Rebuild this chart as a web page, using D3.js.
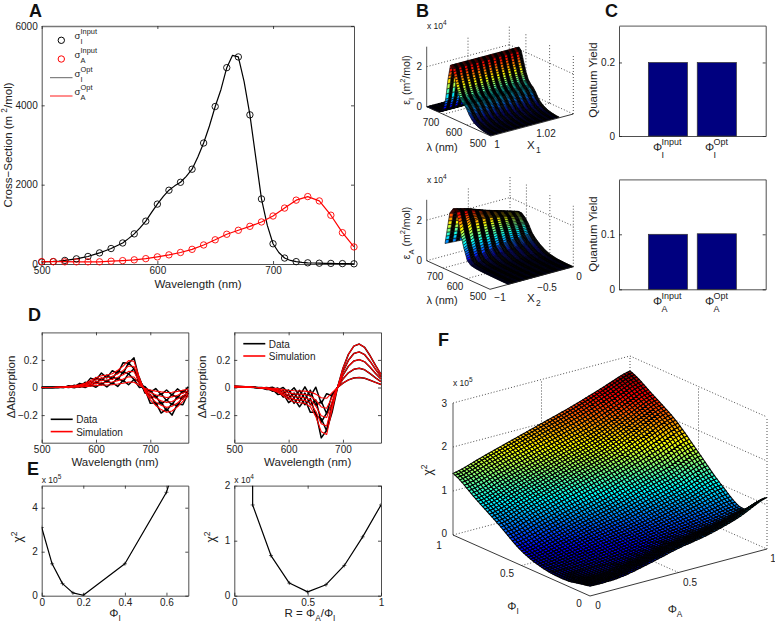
<!DOCTYPE html>
<html>
<head>
<meta charset="utf-8">
<script src="https://cdn.jsdelivr.net/npm/d3@7"></script>
<style>
body { margin: 0; background: #fff; }
text { font-family: "Liberation Sans", Arial, sans-serif; fill: #222; }
</style>
</head>
<body>
<svg id="fig" width="775" height="622"></svg>
<script>
// panel A
const wl10 = [500,510,520,530,540,550,560,570,580,590,600,610,620,630,640,650,660,670,680,690,700,710,720,730,740,750,760,770];
const sigmaIInput = [50,60,90,130,190,280,390,530,760,1080,1510,1860,2060,2390,3050,3970,4950,5220,3760,1640,510,150,60,30,20,15,10,5];
const sigmaAInput = [60,60,55,55,55,55,70,85,105,135,180,230,290,370,480,610,750,850,950,1060,1210,1410,1610,1700,1590,1230,790,430];
const wl5 = [500,505,510,515,520,525,530,535,540,545,550,555,560,565,570,575,580,585,590,595,600,605,610,615,620,625,630,635,640,645,650,655,660,665,670,675,680,685,690,695,700,705,710,715,720,725,730,735,740,745,750,755,760,765,770];
const sigmaIOpt = [55,60,65,75,90,110,130,160,190,235,280,335,390,460,530,640,760,910,1080,1300,1510,1700,1860,1970,2060,2210,2390,2700,3050,3480,3970,4400,4950,5260,5220,4600,3760,2700,1640,980,510,290,150,90,60,40,30,25,20,18,15,12,10,8,5];
const sigmaAOpt = [60,60,58,55,55,55,70,85,105,135,180,230,290,370,480,610,750,850,950,1060,1210,1410,1610,1700,1590,1230,790,430];

// panel B
const epsI = [0.03,0.03,0.05,0.07,0.1,0.14,0.2,0.27,0.38,0.54,0.76,0.93,1.03,1.2,1.53,1.99,2.48,2.61,1.88,0.82,0.26,0.08,0.03,0.02,0.01,0.01,0.01,0];
const epsAWl = [500,530,570,600,620,640,660,675,690,705,720,735,750,770];
const epsAX = [0.22,0.4,0.6,0.8,1];
const epsA = [
  [0,0,0,0,0],
  [0,0,0,0,0],
  [0.01,0.01,0.02,0.03,0.03],
  [0.02,0.03,0.06,0.08,0.1],
  [0.03,0.05,0.1,0.15,0.2],
  [0.05,0.1,0.2,0.3,0.35],
  [0.1,0.2,0.35,0.45,0.55],
  [0.25,0.4,0.6,0.7,0.75],
  [0.8,1.1,1.2,1.2,1.1],
  [1.5,1.9,1.8,1.6,1.35],
  [2.4,2.3,2.0,1.75,1.5],
  [2.5,2.3,2.0,1.75,1.5],
  [2.2,2.0,1.8,1.55,1.3],
  [0.6,0.55,0.5,0.45,0.4]
];

// panel C
const yieldPos = [1, 2];
const yieldI = [0.2, 0.2];
const yieldA = [0.1, 0.101];

// panel D, left
const simL1 = [0,0,0,0.002,0.004,0.008,0.012,0.02,0.03,0.05,0.07,0.085,0.09,0.1,0.125,0.155,0.195,0.19,0.07,-0.03,-0.09,-0.13,-0.16,-0.18,-0.17,-0.14,-0.1,-0.06];
const simL2 = [0,0,0,0.002,0.003,0.006,0.01,0.016,0.024,0.04,0.056,0.068,0.072,0.08,0.1,0.124,0.156,0.152,0.056,-0.024,-0.072,-0.104,-0.128,-0.144,-0.136,-0.112,-0.08,-0.048];
const simL3 = [0,0,0,0.001,0.002,0.005,0.007,0.012,0.018,0.03,0.042,0.051,0.054,0.06,0.075,0.093,0.117,0.114,0.042,-0.018,-0.054,-0.078,-0.096,-0.108,-0.102,-0.084,-0.06,-0.036];
const simL4 = [0,0,0,0.001,0.002,0.003,0.005,0.008,0.012,0.02,0.028,0.034,0.036,0.04,0.05,0.062,0.078,0.076,0.028,-0.012,-0.036,-0.052,-0.064,-0.072,-0.068,-0.056,-0.04,-0.024];
const simL5 = [0,0,0,0,0.001,0.002,0.002,0.004,0.006,0.01,0.014,0.017,0.018,0.02,0.025,0.031,0.039,0.038,0.014,-0.006,-0.018,-0.026,-0.032,-0.036,-0.034,-0.028,-0.02,-0.012];
const datL1 = [0,0.002,0,0.004,0.001,0.012,0.006,0.03,0.02,0.068,0.055,0.105,0.07,0.122,0.1,0.18,0.175,0.215,0.055,-0.01,-0.115,-0.11,-0.185,-0.155,-0.2,-0.12,-0.125,-0.04];
const datL2 = [0,0,0.002,0,0.006,0.002,0.016,0.006,0.038,0.026,0.072,0.05,0.09,0.06,0.122,0.1,0.18,0.135,0.07,-0.04,-0.05,-0.125,-0.105,-0.17,-0.115,-0.135,-0.06,-0.065];
const datL3 = [0.001,0,0,0.003,0,0.01,0.002,0.02,0.008,0.045,0.028,0.068,0.038,0.08,0.055,0.115,0.1,0.135,0.025,0,-0.075,-0.06,-0.12,-0.09,-0.125,-0.065,-0.085,-0.02];
const datL4 = [0,0.001,0,0,0.004,0,0.011,0.002,0.022,0.01,0.043,0.02,0.052,0.025,0.07,0.042,0.1,0.058,0.045,-0.03,-0.02,-0.072,-0.045,-0.095,-0.05,-0.076,-0.022,-0.042];
const datL5 = [0,0,0.002,0,0,0.006,-0.002,0.01,0,0.02,0.002,0.032,0.004,0.036,0.008,0.052,0.02,0.058,0,0.008,-0.035,-0.008,-0.052,-0.018,-0.055,-0.01,-0.04,0.005];

// panel D, right
const simR1 = [0.01,0.008,0.006,0.004,0,-0.004,-0.01,-0.02,-0.035,-0.06,-0.085,-0.105,-0.11,-0.115,-0.14,-0.21,-0.32,-0.34,-0.16,0,0.14,0.24,0.3,0.315,0.29,0.23,0.16,0.095];
const simR2 = [0.008,0.007,0.005,0.003,0,-0.003,-0.008,-0.016,-0.029,-0.049,-0.07,-0.086,-0.09,-0.094,-0.115,-0.172,-0.262,-0.279,-0.131,0,0.115,0.197,0.246,0.258,0.238,0.189,0.131,0.078];
const simR3 = [0.006,0.005,0.004,0.003,0,-0.003,-0.006,-0.013,-0.022,-0.038,-0.054,-0.067,-0.07,-0.074,-0.09,-0.134,-0.205,-0.218,-0.102,0,0.09,0.154,0.192,0.202,0.186,0.147,0.102,0.061];
const simR4 = [0.004,0.004,0.003,0.002,0,-0.002,-0.004,-0.009,-0.015,-0.026,-0.037,-0.046,-0.048,-0.051,-0.062,-0.092,-0.141,-0.15,-0.07,0,0.062,0.106,0.132,0.139,0.128,0.101,0.07,0.042];
const simR5 = [0.002,0.002,0.001,0.001,0,-0.001,-0.002,-0.005,-0.008,-0.014,-0.02,-0.024,-0.025,-0.026,-0.032,-0.048,-0.074,-0.078,-0.037,0,0.032,0.055,0.069,0.072,0.067,0.053,0.037,0.022];
const datR1 = [0.01,0.008,0.006,0.004,0,-0.003,-0.015,-0.012,-0.05,-0.045,-0.11,-0.08,-0.14,-0.085,-0.18,-0.18,-0.365,-0.31,-0.18,0,0.14,0.24,0.3,0.315,0.29,0.23,0.16,0.095];
const datR2 = [0.008,0.007,0.005,0.003,0,-0.005,-0.002,-0.027,-0.018,-0.07,-0.05,-0.115,-0.065,-0.125,-0.08,-0.205,-0.225,-0.315,-0.11,0,0.115,0.197,0.246,0.258,0.238,0.189,0.131,0.078];
const datR3 = [0.006,0.005,0.004,0.003,0,-0.001,-0.011,-0.005,-0.035,-0.02,-0.08,-0.04,-0.1,-0.04,-0.125,-0.09,-0.25,-0.185,-0.12,0,0.09,0.154,0.192,0.202,0.186,0.147,0.102,0.061];
const datR4 = [0.004,0.004,0.003,0.002,0,-0.004,0,-0.016,-0.004,-0.042,-0.018,-0.075,-0.02,-0.085,-0.02,-0.13,-0.1,-0.19,-0.05,0,0.062,0.106,0.132,0.139,0.128,0.101,0.07,0.042];
const datR5 = [0.002,0.002,0.001,0.001,0,0,-0.006,0.002,-0.017,0,-0.04,-0.002,-0.06,0.005,-0.065,0.002,-0.115,-0.045,-0.06,0,0.032,0.055,0.069,0.072,0.067,0.053,0.037,0.022];

// panel E
const chiPhiX = [0,0.05,0.1,0.15,0.2,0.4,0.6,0.62];
const chiPhiY = [3.1,1.45,0.55,0.13,0.02,1.45,4.7,5.3];
const chiRX = [0.125,0.125,0.25,0.375,0.5,0.625,0.75,0.875,1];
const chiRY = [2.6,1.65,0.73,0.23,0.07,0.2,0.55,1.07,1.65];

// panel F, rows are phi_I, columns are phi_A
const chiGrid = [0,1/6,2/6,3/6,4/6,5/6,1];
const chiSurface = [
  [0.22,0.24,0.38,0.55,0.68,0.88,1.17],
  [0.12,0.14,0.22,0.35,0.45,0.55,0.68],
  [0.15,0.25,0.38,0.5,0.65,0.82,1.0],
  [0.33,0.5,0.68,0.85,1.05,1.25,1.5],
  [0.7,0.9,1.1,1.3,1.5,1.75,2.0],
  [1.05,1.25,1.45,1.65,1.85,2.1,2.35],
  [1.4,1.6,1.8,2.0,2.2,2.43,2.66]
];

const svg = d3.select("#fig");
const TICK = 10, LABEL = 11.5;

function txt(x, y, str, o = {}) {
  const t = svg.append("text")
    .attr("x", x).attr("y", y)
    .attr("text-anchor", o.anchor || "middle")
    .style("font-size", (o.size || TICK) + "px")
    .style("font-weight", o.weight || "normal")
    .text(str);
  return t;
}

// text with sub/superscripts, parts are [string, "sub"|"sup"|undefined]
function rich(x, y, parts, o = {}) {
  const size = o.size || LABEL;
  const t = svg.append("text")
    .attr("text-anchor", o.anchor || "middle")
    .style("font-size", size + "px");
  if (o.rotate) t.attr("transform", "translate(" + x + "," + y + ")rotate(-90)");
  else t.attr("x", x).attr("y", y);
  let shift = 0;
  parts.forEach(p => {
    const want = p[1] === "sub" ? size * 0.35 : p[1] === "sup" ? -size * 0.45 : 0;
    t.append("tspan")
      .attr("dy", want - shift)
      .style("font-size", (p[1] ? size * 0.72 : size) + "px")
      .text(p[0]);
    shift = want;
  });
  return t;
}

// symbol with stacked sub and sup
function stacked(x, y, base, sub, sup, o = {}) {
  const size = o.size || 11, w = o.gap || 8;
  txt(x, y, base, { anchor: "start", size });
  txt(x + w, y - (o.up || 5), sup, { anchor: "start", size: size * 0.78 });
  txt(x + w, y + (o.down || 7), sub, { anchor: "start", size: size * 0.78 });
}

function frame(x, y, o) {
  const [x0, x1] = x.range(), [y0, y1] = y.range();
  const style = g => {
    g.selectAll("path,line").attr("stroke", "#222").attr("stroke-width", 0.8);
    g.selectAll("text").style("font-size", TICK + "px").style("font-family", '"Liberation Sans", Arial, sans-serif').attr("fill", "#222");
  };
  const tx = o.xTicks || [], ty = o.yTicks || [];
  const fmtY = o.yFmt || (d => String(d));
  const fmtX = o.xFmt || (d => String(d));
  svg.append("g").attr("transform", "translate(0," + y0 + ")")
    .call(d3.axisBottom(x).tickValues(tx).tickSize(-3).tickSizeOuter(0).tickPadding(3).tickFormat(fmtX)).call(style);
  svg.append("g").attr("transform", "translate(" + x0 + ",0)")
    .call(d3.axisLeft(y).tickValues(ty).tickSize(-3).tickSizeOuter(0).tickPadding(4).tickFormat(fmtY)).call(style);
  const top = svg.append("g").attr("transform", "translate(0," + y1 + ")")
    .call(d3.axisTop(x).tickValues(tx).tickSize(-3).tickSizeOuter(0).tickFormat("")).call(style);
  svg.append("g").attr("transform", "translate(" + x1 + ",0)")
    .call(d3.axisRight(y).tickValues(ty).tickSize(-3).tickSizeOuter(0).tickFormat("")).call(style);
  top.select("path").attr("stroke", "#777").attr("stroke-width", 1.3);
}

function drawLine(x, y, xs, ys, color, width, clip) {
  const line = d3.line().x(d => x(d[0])).y(d => y(d[1]));
  const p = svg.append("path")
    .attr("d", line(d3.zip(xs, ys)))
    .attr("fill", "none").attr("stroke", color).attr("stroke-width", width)
    .attr("stroke-linejoin", "round");
  if (clip) p.attr("clip-path", "url(#" + clip + ")");
}

let clipId = 0;
function addClip(x, y) {
  const id = "clip" + (clipId++);
  svg.append("clipPath").attr("id", id).append("rect")
    .attr("x", x.range()[0]).attr("y", y.range()[1])
    .attr("width", x.range()[1] - x.range()[0]).attr("height", y.range()[0] - y.range()[1]);
  return id;
}

// MATLAB jet
function jet(t) {
  t = Math.max(0, Math.min(1, t));
  const c = v => Math.round(255 * Math.max(0, Math.min(1, v)));
  return d3.rgb(c(1.5 - Math.abs(4 * t - 3)), c(1.5 - Math.abs(4 * t - 2)), c(1.5 - Math.abs(4 * t - 1)));
}

function view3d(front, right, left, zPx) {
  return (u, v, z) => [
    front[0] + u * (right[0] - front[0]) + v * (left[0] - front[0]),
    front[1] + u * (right[1] - front[1]) + v * (left[1] - front[1]) - z * zPx
  ];
}

function catmull(p0, p1, p2, p3, t) {
  return 0.5 * (2 * p1 + (p2 - p0) * t + (2 * p0 - 5 * p1 + 4 * p2 - p3) * t * t + (3 * p1 - p0 - 3 * p2 + p3) * t * t * t);
}

// rows run along v, columns along u; the mesh is drawn back to front
function surface(proj, vs, us, z, o) {
  const vIdx = d3.scaleLinear().domain(vs).range(d3.range(vs.length));
  const uIdx = d3.scaleLinear().domain(us).range(d3.range(us.length));
  const zAt = (u, v) => {
    const a = Math.min(vIdx(v), vs.length - 1.0001), b = Math.min(uIdx(u), us.length - 1.0001);
    const i = Math.floor(a), j = Math.floor(b), fa = a - i, fb = b - j;
    if (o.smooth) {
      const R = k => z[Math.max(0, Math.min(vs.length - 1, k))];
      const C = (r, k) => r[Math.max(0, Math.min(us.length - 1, k))];
      const row = k => catmull(C(R(k), j - 1), C(R(k), j), C(R(k), j + 1), C(R(k), j + 2), fb);
      return catmull(row(i - 1), row(i), row(i + 1), row(i + 2), fa);
    }
    return d3.interpolate(
      d3.interpolate(z[i][j], z[i][j + 1])(fb),
      d3.interpolate(z[i + 1][j], z[i + 1][j + 1])(fb))(fa);
  };
  const vMin = vs[0], vMax = vs[vs.length - 1], uMin = us[0], uMax = us[us.length - 1];
  const cells = [];
  for (let i = o.nv - 1; i >= 0; i--) {
    for (let j = o.nu - 1; j >= 0; j--) {
      const v0 = vMin + (vMax - vMin) * i / o.nv, v1 = vMin + (vMax - vMin) * (i + 1) / o.nv;
      const u0 = uMin + (uMax - uMin) * j / o.nu, u1 = uMin + (uMax - uMin) * (j + 1) / o.nu;
      const zs = [zAt(u0, v0), zAt(u1, v0), zAt(u1, v1), zAt(u0, v1)];
      cells.push({
        pts: [proj(u0, v0, zs[0]), proj(u1, v0, zs[1]), proj(u1, v1, zs[2]), proj(u0, v1, zs[3])],
        c: d3.mean(zs) / o.cmax,
        rib: o.ribs && j % 2 === 1
      });
    }
  }
  svg.append("g").selectAll("polygon").data(cells).join("polygon")
    .attr("points", d => d.pts.join(" "))
    .attr("fill", d => d.rib ? "#000" : jet(d.c))
    .attr("stroke", "#000").attr("stroke-width", o.sw);
}

function seg(a, b, dotted, color) {
  svg.append("line")
    .attr("x1", a[0]).attr("y1", a[1]).attr("x2", b[0]).attr("y2", b[1])
    .attr("stroke", color || "#222").attr("stroke-width", dotted ? 0.8 : 0.9)
    .attr("stroke-dasharray", dotted ? "1,2" : null);
}

function box3d(proj, zTicks, zTop, uTicks, vTicks) {
  zTicks.forEach(z => {
    seg(proj(0, 1, z), proj(1, 1, z), true);
    seg(proj(1, 1, z), proj(1, 0, z), true);
  });
  uTicks.forEach(u => {
    seg(proj(u, 1, 0), proj(u, 1, zTop), true);
    seg(proj(u, 0, 0), proj(u, 1, 0), true);
  });
  vTicks.forEach(v => {
    seg(proj(1, v, 0), proj(1, v, zTop), true);
    seg(proj(0, v, 0), proj(1, v, 0), true);
  });
  seg(proj(1, 1, 0), proj(1, 1, zTop), true);
  seg(proj(1, 0, 0), proj(1, 0, zTop), true);
}

function box3dFront(proj, zTop) {
  seg(proj(0, 1, 0), proj(0, 1, zTop), false, "#444");
  seg(proj(0, 1, 0), proj(0, 0, 0), false);
  seg(proj(0, 0, 0), proj(1, 0, 0), false);
}

function panelLabel(x, y, s) { txt(x, y, s, { anchor: "start", size: 18, weight: "bold" }).style("fill", "#111"); }

panelLabel(29, 16.5, "A");
panelLabel(416, 16.5, "B");
panelLabel(605, 16.5, "C");
panelLabel(28, 321, "D");
panelLabel(27, 475, "E");
panelLabel(438, 346, "F");

// --- A
{
  const x = d3.scaleLinear().domain([500, 770]).range([41.7, 354]);
  const y = d3.scaleLinear().domain([0, 6000]).range([264, 26]);
  frame(x, y, { xTicks: [500, 600, 700], yTicks: [0, 2000, 4000, 6000] });
  drawLine(x, y, wl5, sigmaIOpt, "#000", 1.2);
  drawLine(x, y, wl10, sigmaAOpt, "#f00", 1.2);
  svg.append("g").selectAll("circle").data(d3.zip(wl10, sigmaIInput)).join("circle")
    .attr("cx", d => x(d[0])).attr("cy", d => y(d[1])).attr("r", 3.2)
    .attr("fill", "none").attr("stroke", "#000").attr("stroke-width", 0.9);
  svg.append("g").selectAll("circle").data(d3.zip(wl10, sigmaAInput)).join("circle")
    .attr("cx", d => x(d[0])).attr("cy", d => y(d[1])).attr("r", 3.2)
    .attr("fill", "none").attr("stroke", "#f00").attr("stroke-width", 0.9);
  txt(198, 288, "Wavelength (nm)", { size: LABEL });
  rich(12, 145, [["Cross−Section (m  "], ["2", "sup"], ["/mol)"]], { rotate: true });
  // legend
  svg.append("circle").attr("cx", 61.3).attr("cy", 40.3).attr("r", 3.2).attr("fill", "none").attr("stroke", "#000");
  svg.append("circle").attr("cx", 61.3).attr("cy", 59).attr("r", 3.2).attr("fill", "none").attr("stroke", "#f00");
  seg([50, 77.7], [72.5, 77.7], false, "#555");
  seg([50, 96], [72.5, 96], false, "#f00");
  stacked(74.5, 39, "σ", "I", "Input", { size: 9.5, gap: 6, up: 5.5, down: 5 });
  stacked(74.5, 58, "σ", "A", "Input", { size: 9.5, gap: 6, up: 5.5, down: 5 });
  stacked(74.5, 77, "σ", "I", "Opt", { size: 9.5, gap: 6, up: 5.5, down: 5 });
  stacked(74.5, 95, "σ", "A", "Opt", { size: 9.5, gap: 6, up: 5.5, down: 5 });
}

// --- B
{
  const vOf = d3.scaleLinear().domain([500, 770]).range([0, 1]);
  const proj = view3d([490.7, 136], [573.3, 114], [426.7, 106.7], 20);
  box3d(proj, [0, 2], 3, [0.5], [vOf(600), vOf(700)]);
  surface(proj, wl10.map(vOf), [0, 0.83], epsI.map(v => [v, v]), { nv: 108, nu: 24, cmax: 2.7, sw: 0.6, ribs: true });
  box3dFront(proj, 3);
  txt(427, 29, "x 10", { anchor: "start", size: 8.5 });
  txt(443, 25, "4", { anchor: "start", size: 6.5 });
  txt(422, 70, "2", { anchor: "end" });
  txt(422, 110, "0", { anchor: "end" });
  rich(410, 80, [["ε"], ["I", "sub"], [" (m"], ["2", "sup"], ["/mol)"]], { rotate: true, size: 10.5 });
  txt(431, 126, "700"); txt(454, 136, "600"); txt(478, 147, "500");
  txt(442, 151, "λ (nm)", { size: 11 });
  txt(497, 148, "1"); txt(546, 137, "1.02");
  txt(527, 149, "X", { anchor: "start", size: 11.5 }); txt(536, 153, "1", { anchor: "start", size: 8.5 });
}
{
  const vOf = d3.scaleLinear().domain([500, 770]).range([0, 1]);
  const proj = view3d([490, 289.3], [573.3, 266.7], [426.7, 260.7], 20.3);
  box3d(proj, [0, 2], 3, [0.5], [vOf(600), vOf(700)]);
  surface(proj, epsAWl.map(vOf), epsAX, epsA, { nv: 108, nu: 18, cmax: 2.6, sw: 0.6, ribs: true });
  box3dFront(proj, 3);
  txt(427, 183, "x 10", { anchor: "start", size: 8.5 });
  txt(443, 179, "4", { anchor: "start", size: 6.5 });
  txt(422, 224, "2", { anchor: "end" });
  txt(422, 264, "0", { anchor: "end" });
  rich(410, 233, [["ε"], ["A", "sub"], [" (m"], ["2", "sup"], ["/mol)"]], { rotate: true, size: 10.5 });
  txt(435, 280, "700"); txt(455, 290, "600"); txt(478, 300, "500");
  txt(442, 304, "λ (nm)", { size: 11 });
  txt(500, 301, "−1"); txt(547, 291, "−0.5"); txt(579, 280, "0");
  txt(527, 302, "X", { anchor: "start", size: 11.5 }); txt(536, 306, "2", { anchor: "start", size: 8.5 });
}

// --- C
function barPanel(yTop, yBot, dom, ticks, values, sub, yLabel, baseY) {
  const x = d3.scaleLinear().domain([0, 3]).range([619, 765.7]);
  const y = d3.scaleLinear().domain(dom).range([yBot, yTop]);
  svg.append("g").selectAll("rect").data(d3.zip(yieldPos, values)).join("rect")
    .attr("x", d => x(d[0] - 0.4)).attr("width", x(0.8) - x(0))
    .attr("y", d => y(d[1])).attr("height", d => y(0) - y(d[1]))
    .attr("fill", "#00007f").attr("stroke", "#333").attr("stroke-width", 0.7);
  frame(x, y, { yTicks: ticks });
  rich(597, yLabel, [["Quantum Yield"]], { rotate: true });
  stacked(653, baseY, "Φ", sub, "Input", { size: 11.5, gap: 8.5, up: 6, down: 7 });
  stacked(705, baseY, "Φ", sub, "Opt", { size: 11.5, gap: 8.5, up: 6, down: 7 });
}
barPanel(25.7, 136, [0, 0.3], [0, 0.2], yieldI, "I", 80, 151);
barPanel(179.3, 289.3, [0, 0.2], [0, 0.1], yieldA, "A", 234, 305);

// --- D
function specPanel(x0, x1, dat, sim, legX, legY, ylabX) {
  const x = d3.scaleLinear().domain([500, 770]).range([x0, x1]);
  const y = d3.scaleLinear().domain([-0.4, 0.4]).range([442.7, 332.3]);
  frame(x, y, { xTicks: [500, 600, 700], yTicks: [-0.2, 0, 0.2], yFmt: d => d === 0 ? "0" : String(d).replace("-", "−") });
  dat.forEach(s => drawLine(x, y, wl10, s, "#000", 1.5));
  sim.forEach(s => drawLine(x, y, wl10, s, "#f00", 1.1));
  txt((x0 + x1) / 2, 466, "Wavelength (nm)", { size: LABEL });
  rich(ylabX, 387, [["ΔAbsorption"]], { rotate: true });
  svg.append("line").attr("x1", legX).attr("x2", legX + 22).attr("y1", legY).attr("y2", legY).attr("stroke", "#000").attr("stroke-width", 1.6);
  svg.append("line").attr("x1", legX).attr("x2", legX + 22).attr("y1", legY + 12.3).attr("y2", legY + 12.3).attr("stroke", "#f00").attr("stroke-width", 1.6);
  txt(legX + 25.5, legY + 4, "Data", { anchor: "start" });
  txt(legX + 25.5, legY + 16.3, "Simulation", { anchor: "start" });
}
specPanel(41.7, 188.3, [datL1, datL2, datL3, datL4, datL5], [simL1, simL2, simL3, simL4, simL5], 50.7, 419.3, 15);
specPanel(234.3, 381, [datR1, datR2, datR3, datR4, datR5], [simR1, simR2, simR3, simR4, simR5], 243.3, 343.7, 206);

// --- E
function chiPanel(x0, x1, dom, xTicks, yDom, yTicks, xs, ys, exp) {
  const x = d3.scaleLinear().domain(dom).range([x0, x1]);
  const y = d3.scaleLinear().domain(yDom).range([595.7, 485.7]);
  frame(x, y, { xTicks, yTicks });
  const clip = addClip(x, y);
  drawLine(x, y, xs, ys, "#000", 1.2, clip);
  svg.append("g").attr("clip-path", "url(#" + clip + ")").selectAll("path").data(d3.zip(xs, ys)).join("path")
    .attr("transform", d => "translate(" + x(d[0]) + "," + y(d[1]) + ")")
    .attr("d", "M-2,0H2M0,-2V2").attr("stroke", "#000").attr("stroke-width", 0.6);
  txt(x0, 483, "x 10", { anchor: "start", size: 8.5 });
  txt(x0 + 16, 479, exp, { anchor: "start", size: 6.5 });
}
chiPanel(41.7, 188.3, [0, 0.705], [0, 0.2, 0.4, 0.6], [0, 5], [0, 2, 4], chiPhiX, chiPhiY, "5");
chiPanel(234.3, 381, [0, 1], [0, 0.5, 1], [0, 2], [0, 1, 2], chiRX, chiRY, "4");
rich(22, 537, [["χ"], ["2", "sup"]], { rotate: true, size: 12 });
rich(215, 537, [["χ"], ["2", "sup"]], { rotate: true, size: 12 });
rich(115, 617, [["Φ"], ["I", "sub"]], { size: 11.5 });
rich(310, 617, [["R = Φ"], ["A", "sub"], ["/Φ"], ["I", "sub"]], { size: 11.5 });

// --- F
{
  const proj = view3d([590, 596], [767, 549], [453, 535], 44);
  box3d(proj, [0, 1, 2, 3], 3, [0.5], [0.5]);
  surface(proj, chiGrid, chiGrid, chiSurface, { nv: 60, nu: 60, cmax: 2.7, sw: 1.05, smooth: true });
  box3dFront(proj, 3);
  txt(453, 386, "x 10", { anchor: "start", size: 8.5 });
  txt(469, 382, "5", { anchor: "start", size: 6.5 });
  txt(447, 407, "3", { anchor: "end" });
  txt(447, 450, "2", { anchor: "end" });
  txt(447, 494, "1", { anchor: "end" });
  txt(447, 537, "0", { anchor: "end" });
  rich(432, 470, [["χ"], ["2", "sup"]], { rotate: true, size: 12 });
  txt(439, 549, "1"); txt(507, 577, "0.5"); txt(579, 607, "0");
  txt(598, 609, "0"); txt(690, 586, "0.5"); txt(773, 562, "1");
  rich(513, 610, [["Φ"], ["I", "sub"]], { size: 11.5 });
  rich(675, 613, [["Φ"], ["A", "sub"]], { size: 11.5 });
}
</script>
</body>
</html>
